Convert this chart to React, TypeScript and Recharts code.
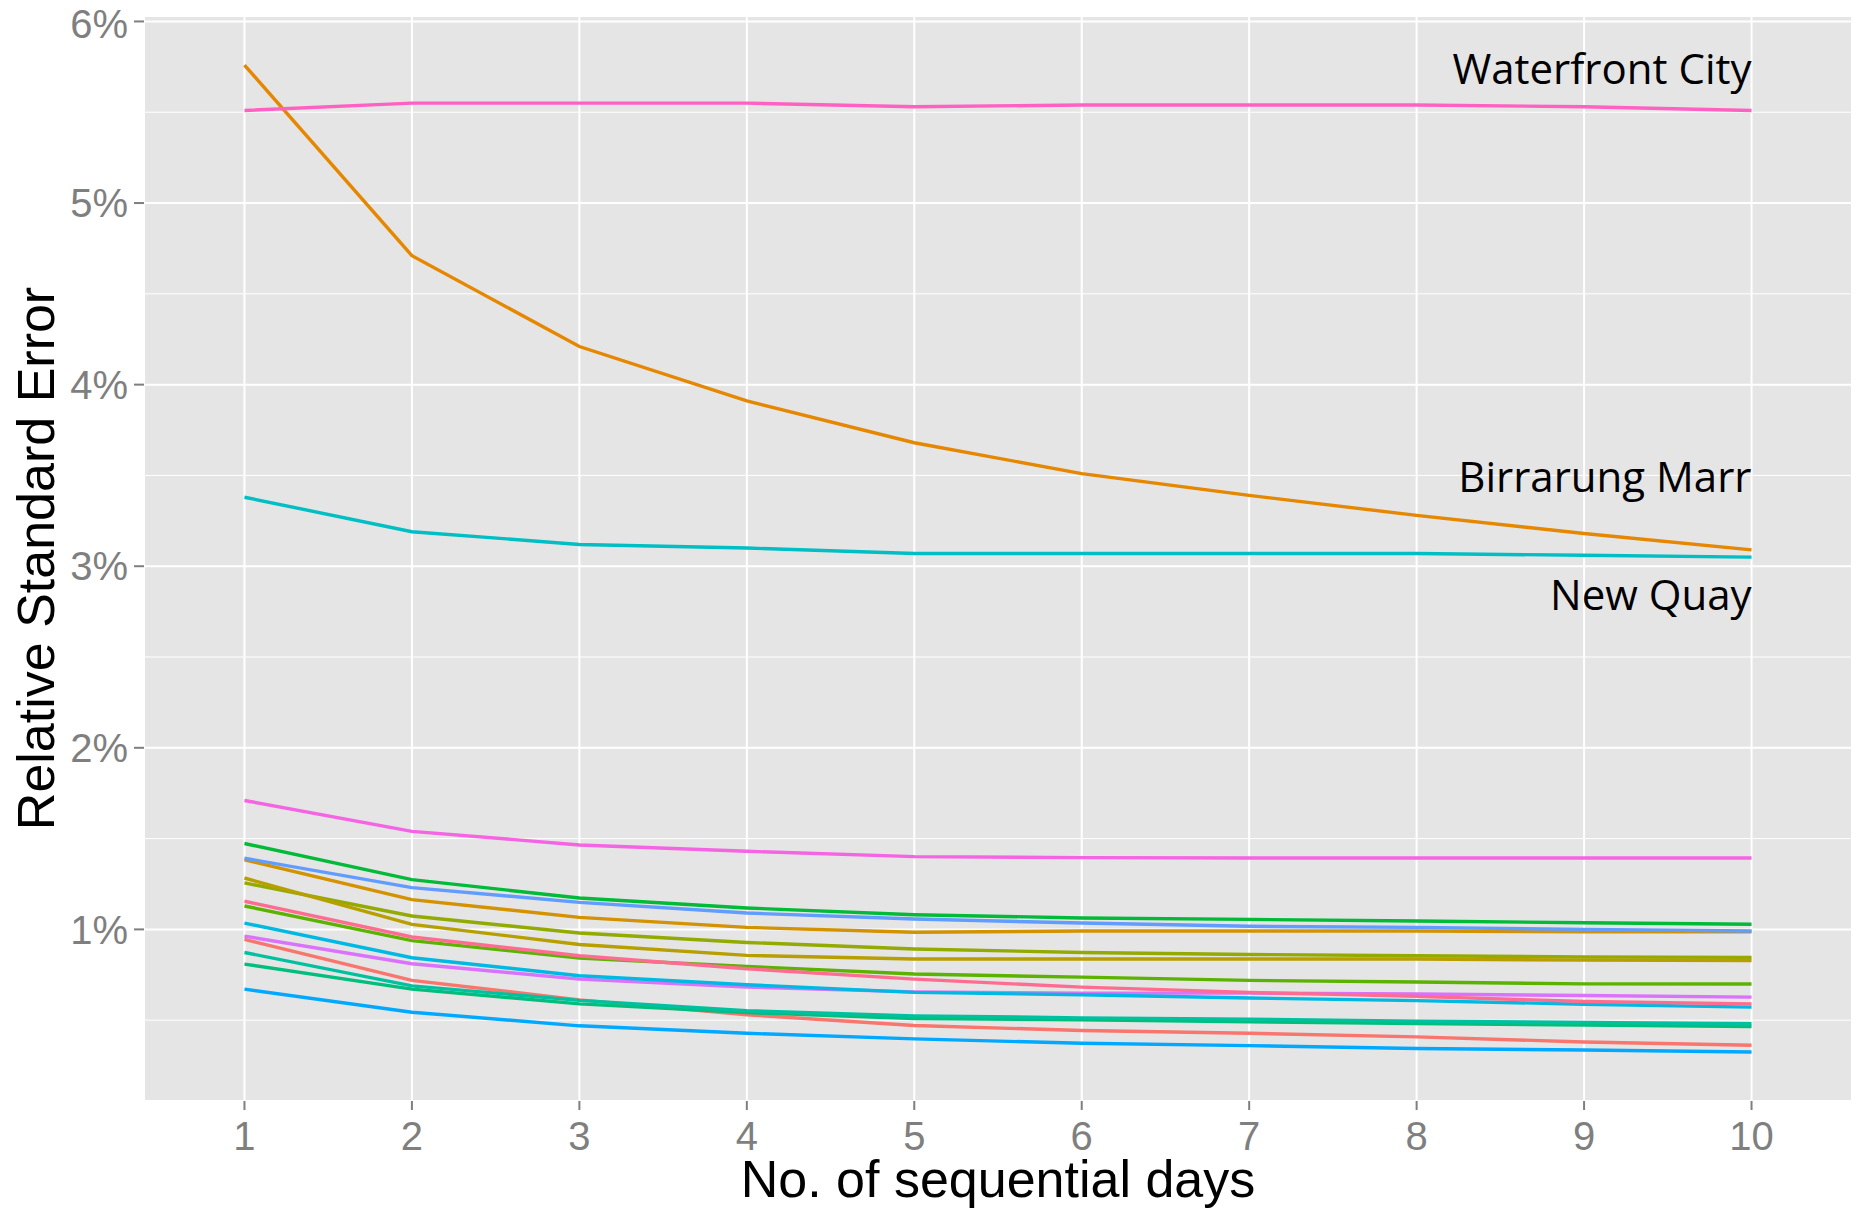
import React from "react";
import {
  LineChart,
  Line,
  XAxis,
  YAxis,
  CartesianGrid,
  ReferenceLine,
  ReferenceDot,
  Label,
} from "recharts";

const DAYS = [1, 2, 3, 4, 5, 6, 7, 8, 9, 10];
const Y_TICKS = [1, 2, 3, 4, 5, 6];
const Y_MINOR = [0.5, 1.5, 2.5, 3.5, 4.5, 5.5];

// relative standard error (%) per site, for 1..10 sequential days
const waterfrontCity = [5.51, 5.55, 5.55, 5.55, 5.53, 5.54, 5.54, 5.54, 5.53, 5.51];
const birrarungMarr = [5.76, 4.71, 4.21, 3.91, 3.68, 3.51, 3.39, 3.28, 3.18, 3.09];
const newQuay = [3.38, 3.19, 3.12, 3.1, 3.07, 3.07, 3.07, 3.07, 3.06, 3.05];
const siteMagenta = [1.71, 1.54, 1.465, 1.43, 1.401, 1.395, 1.393, 1.393, 1.393, 1.393];
const siteGreen = [1.473, 1.274, 1.173, 1.118, 1.081, 1.063, 1.055, 1.046, 1.037, 1.028];
const siteBlue = [1.392, 1.23, 1.149, 1.09, 1.057, 1.035, 1.017, 1.011, 1.0, 0.991];
const siteGold = [1.383, 1.164, 1.066, 1.011, 0.984, 0.991, 0.991, 0.991, 0.987, 0.987];
const siteOliveGold = [1.283, 1.028, 0.917, 0.857, 0.837, 0.837, 0.837, 0.837, 0.831, 0.829];
const siteOlive = [1.256, 1.074, 0.98, 0.928, 0.892, 0.873, 0.862, 0.855, 0.848, 0.846];
const siteRose = [1.155, 0.958, 0.855, 0.783, 0.726, 0.682, 0.653, 0.631, 0.603, 0.59];
const siteLime = [1.129, 0.938, 0.842, 0.796, 0.754, 0.737, 0.719, 0.71, 0.7, 0.699];
const siteSky = [1.035, 0.844, 0.745, 0.695, 0.653, 0.64, 0.622, 0.608, 0.588, 0.572];
const siteViolet = [0.963, 0.811, 0.726, 0.682, 0.656, 0.649, 0.649, 0.644, 0.636, 0.627];
const siteSalmon = [0.945, 0.719, 0.612, 0.53, 0.471, 0.443, 0.428, 0.408, 0.38, 0.362];
const siteTeal = [0.873, 0.689, 0.609, 0.552, 0.524, 0.513, 0.506, 0.495, 0.487, 0.48];
const siteSea = [0.809, 0.671, 0.59, 0.542, 0.509, 0.502, 0.491, 0.482, 0.473, 0.465];
const siteAzure = [0.671, 0.544, 0.469, 0.428, 0.397, 0.373, 0.36, 0.344, 0.336, 0.325];

const SERIES = [
  { key: "salmon", values: siteSalmon, color: "#F8766D" },
  { key: "azure", values: siteAzure, color: "#00A9FF" },
  { key: "sea", values: siteSea, color: "#00BF7D" },
  { key: "teal", values: siteTeal, color: "#00C19F" },
  { key: "violet", values: siteViolet, color: "#DB72FB" },
  { key: "sky", values: siteSky, color: "#00B9E3" },
  { key: "lime", values: siteLime, color: "#5BB300" },
  { key: "rose", values: siteRose, color: "#FF6C91" },
  { key: "olive", values: siteOlive, color: "#93AA00" },
  { key: "oliveGold", values: siteOliveGold, color: "#B79F00" },
  { key: "gold", values: siteGold, color: "#D39200" },
  { key: "blue", values: siteBlue, color: "#619CFF" },
  { key: "green", values: siteGreen, color: "#00BA38" },
  { key: "magenta", values: siteMagenta, color: "#F564E3" },
  { key: "newQuay", values: newQuay, color: "#00BFC4" },
  { key: "birrarung", values: birrarungMarr, color: "#E58700" },
  { key: "waterfront", values: waterfrontCity, color: "#FF61C3" },
];

// site labels, anchored at the last day
const LABELS = [
  { text: "Waterfront City", y: 5.655 },
  { text: "Birrarung Marr", y: 3.411 },
  { text: "New Quay", y: 2.757 },
];

const data = DAYS.map((day, i) => {
  const row: Record<string, number> = { day };
  SERIES.forEach((s) => {
    row[s.key] = s.values[i];
  });
  return row;
});

const TICK_STYLE = {
  fontSize: 40,
  fill: "#7F7F7F",
  fontFamily: "Liberation Sans, Arial, sans-serif",
};

const TITLE_STYLE = {
  fontSize: 52,
  fill: "#000000",
  fontFamily: "Liberation Sans, Arial, sans-serif",
};

export default function App() {
  return (
    <div style={{ position: "absolute", left: 0, top: 0, background: "#fff" }}>
      <LineChart
        width={1856}
        height={1208}
        data={data}
        margin={{ top: 16, right: 4, bottom: 0, left: 0 }}
      >
        <CartesianGrid fill="#E5E5E5" stroke="#FFFFFF" strokeWidth={2} />
        <XAxis
          dataKey="day"
          type="number"
          domain={[0.4, 10.6]}
          ticks={DAYS}
          height={107}
          axisLine={false}
          tickSize={9}
          tickMargin={12}
          tickLine={{ stroke: "#7F7F7F", strokeWidth: 2 }}
          tick={TICK_STYLE}
          label={
            <Label
              content={({ viewBox }: any) => (
                <text
                  x={viewBox.x + viewBox.width / 2}
                  y={viewBox.y + 96}
                  textAnchor="middle"
                  style={TITLE_STYLE}
                >
                  No. of sequential days
                </text>
              )}
            />
          }
        />
        <YAxis
          type="number"
          domain={[0.055, 6.03]}
          ticks={Y_TICKS}
          width={144}
          axisLine={false}
          tickSize={10}
          tickMargin={6}
          tickLine={{ stroke: "#7F7F7F", strokeWidth: 2 }}
          tick={TICK_STYLE}
          tickFormatter={(v: number) => `${v}%`}
          label={
            <Label
              content={({ viewBox }: any) => {
                const cx = 54;
                const cy = viewBox.y + viewBox.height / 2;
                return (
                  <text
                    x={cx}
                    y={cy}
                    transform={`rotate(-90 ${cx} ${cy})`}
                    textAnchor="middle"
                    style={TITLE_STYLE}
                  >
                    Relative Standard Error
                  </text>
                );
              }}
            />
          }
        />
        {Y_MINOR.map((v) => (
          <ReferenceLine key={v} y={v} stroke="#FFFFFF" strokeWidth={1} />
        ))}
        {SERIES.map((s) => (
          <Line
            key={s.key}
            dataKey={s.key}
            type="linear"
            stroke={s.color}
            strokeWidth={3.4}
            dot={false}
            activeDot={false}
            isAnimationActive={false}
          />
        ))}
        {LABELS.map((l) => (
          <ReferenceDot
            key={l.text}
            x={10}
            y={l.y}
            r={0}
            shape={(p: any) => (
              <text
                x={p.cx}
                y={p.cy}
                textAnchor="end"
                style={{ fontSize: 42, fill: "#000", fontFamily: "Open Sans, sans-serif" }}
              >
                {l.text}
              </text>
            )}
          />
        ))}
      </LineChart>
    </div>
  );
}
